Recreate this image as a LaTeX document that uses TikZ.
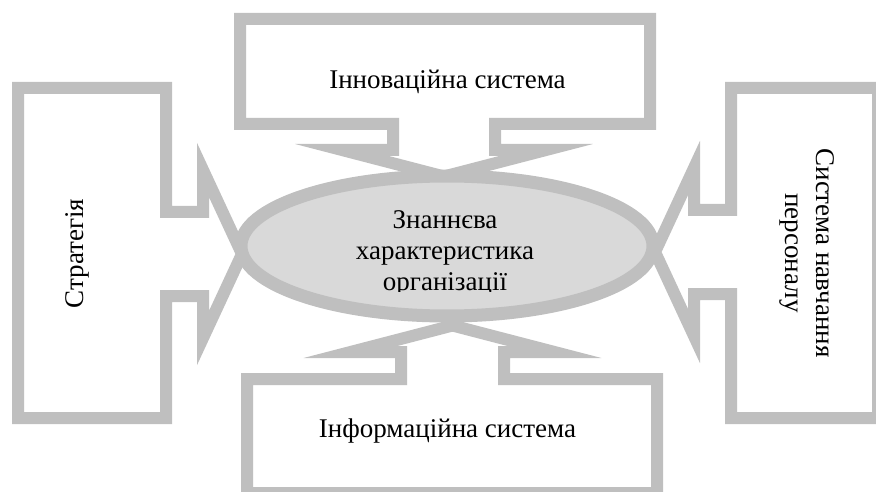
\documentclass[tikz,border=0pt]{standalone}
\usepackage{fontspec}
\setmainfont{Liberation Serif}
\usetikzlibrary{shapes.geometric}
\definecolor{framegray}{RGB}{191,191,191}
\definecolor{ovalgray}{RGB}{217,217,217}

\begin{document}
\begin{tikzpicture}[x=0.75pt,y=-0.75pt,
    callout/.style={draw=framegray,line width=9pt,fill=white},
    oval/.style={ellipse,draw=framegray,line width=9.75pt,fill=ovalgray,
        minimum width=309pt,minimum height=105pt,inner sep=0pt},
    caption/.style={font=\fontsize{20.25}{23}\selectfont,inner sep=0pt,align=center}]
    \useasboundingbox (0,0) rectangle (876,492);

    % four arrow callouts pointing to the centre
    \draw[callout] (18,88) -- (166,88) -- (166,212) -- (203,212) -- (203,170) -- (242,254)
        -- (203,338) -- (203,296) -- (166,296) -- (166,418) -- (18,418) -- cycle;
    \draw[callout] (878,88) -- (731,88) -- (731,210) -- (694,210) -- (694,168) -- (655,252)
        -- (694,336) -- (694,294) -- (731,294) -- (731,418) -- (878,418) -- cycle;
    \draw[callout] (240,19) -- (650,19) -- (650,124) -- (495,124) -- (495,150) -- (546,150)
        -- (444,176.5) -- (342,150) -- (393,150) -- (393,124) -- (240,124) -- cycle;
    \draw[callout] (247,493) -- (247,379) -- (401,379) -- (401,352) -- (350.5,352) -- (452.5,325.5)
        -- (554.5,352) -- (504,352) -- (504,379) -- (657,379) -- (657,493) -- cycle;

    \node[oval] (core) at (447,246) {};

    \node[caption,anchor=base] (innov) at (447.5,89) {Інноваційна система};
    \node[caption,anchor=base] (inform) at (447.5,437) {Інформаційна система};
    \node[caption,anchor=base,rotate=90] (strat) at (83,253.5) {Стратегія};
    \node[caption,rotate=-90] (staff) at (807,253) {Система навчання\\персоналу};

    \begin{scope}
        \clip (200,150) rectangle (700,291.5);
        \node[caption] (coretext) at (445,253.5) {Знаннєва\\характеристика\\організації};
    \end{scope}
\end{tikzpicture}
\end{document}
